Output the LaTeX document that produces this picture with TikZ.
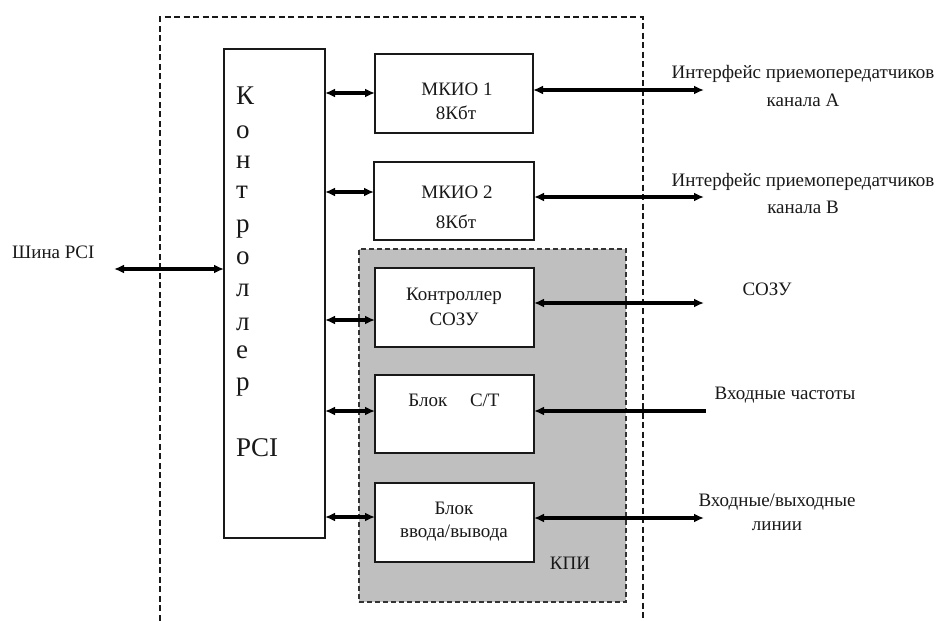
\documentclass[tikz,border=0pt]{standalone}
\usepackage{fontspec}
\setmainfont{Liberation Serif}
\usetikzlibrary{arrows.meta}
\begin{document}
\begin{tikzpicture}[x=1pt,y=-1pt,
  blk/.style={draw=black!90, line width=1.6pt, fill=white, inner sep=0pt, outer sep=0pt, anchor=north west},
  lbl/.style={inner sep=0pt, font=\fontsize{19}{21}\selectfont, text=black!90},
  bigl/.style={inner sep=0pt, font=\fontsize{27}{30}\selectfont, text=black!90, anchor=base west},
  bus/.style={line width=3.6pt, black, {Latex[length=10pt,width=9pt]}-{Latex[length=10pt,width=9pt]}},
  busin/.style={line width=3.6pt, black, {Latex[length=10pt,width=9pt]}-},
  frame/.style={line width=1.6pt, dash pattern=on 6pt off 3.5pt, black!90},
]
\useasboundingbox (0,0) rectangle (943,621);

% outer module frame (runs off the bottom edge)
\draw[frame] (160,630) -- (160,17) -- (643,17) -- (643,630);

% KPI area
\node[blk, draw=black!80, fill=black!25, dash pattern=on 5pt off 3pt, line width=1.4pt,
      minimum width=267pt, minimum height=353pt] (kpi) at (359,249) {};
\node[lbl] (kpit) at (570,563) {КПИ};

% PCI controller
\node[blk, minimum width=101pt, minimum height=489pt] (ctrl) at (224,49) {};
\foreach \ch/\yy [count=\i] in {К/104,о/138,н/168,т/198,р/232,о/264,л/296,л/330,е/358,р/390}
  \node[bigl] (c\i) at (236,\yy) {\ch};
\node[bigl] (cpci) at (236,456) {PCI};

% function blocks
\node[blk, minimum width=158pt, minimum height=79pt] (mk1) at (375,54) {};
\node[blk, minimum width=160pt, minimum height=78pt] (mk2) at (374,162) {};
\node[blk, minimum width=159pt, minimum height=79pt] (ram) at (375,268) {};
\node[blk, minimum width=159pt, minimum height=78pt] (ct) at (375,375) {};
\node[blk, minimum width=159pt, minimum height=79pt] (io) at (375,483) {};

% block captions
\node[lbl] (mk1a) at (457,89) {МКИО 1};
\node[lbl] (mk1b) at (456,113) {8Кбт};
\node[lbl] (mk2a) at (457,192) {МКИО 2};
\node[lbl] (mk2b) at (456,222) {8Кбт};
\node[lbl] (rama) at (454,296) {Контроллер};
\node[lbl] (ramb) at (454,319) {СОЗУ};
\node[lbl] (cta) at (454,400) {Блок\hspace{1.2em}С/Т};
\node[lbl] (ioa) at (454,508) {Блок};
\node[lbl] (iob) at (454,533) {ввода/вывода};

% external signals
\node[lbl, anchor=west] (pcibus) at (12,252) {Шина PCI};
\node[lbl] (ifa1) at (803,74) {Интерфейс приемопередатчиков};
\node[lbl] (ifa2) at (803,100) {канала А};
\node[lbl] (ifb1) at (803,182) {Интерфейс приемопередатчиков};
\node[lbl] (ifb2) at (803,207) {канала В};
\node[lbl] (ramx) at (767,289) {СОЗУ};
\node[lbl] (frq) at (785,395) {Входные частоты};
\node[lbl] (iox1) at (777,502) {Входные/выходные};
\node[lbl] (iox2) at (777,526) {линии};

% free ends of the external lines
\coordinate (pcie) at (114,269);
\coordinate (ifae) at (704,90);
\coordinate (ifbe) at (704,197);
\coordinate (rame) at (704,303);
\coordinate (frqe) at (706,411);
\coordinate (ioe)  at (704,518);

% PCI bus
\draw[bus] (pcie) -- (pcie -| ctrl.west);

% controller to blocks
\draw[bus] (ctrl.east |- 0,93)  -- (mk1.west |- 0,93);
\draw[bus] (ctrl.east |- 0,192) -- (mk2.west |- 0,192);
\draw[bus] (ctrl.east |- 0,320) -- (ram.west |- 0,320);
\draw[bus] (ctrl.east |- 0,411) -- (ct.west |- 0,411);
\draw[bus] (ctrl.east |- 0,517) -- (io.west |- 0,517);

% blocks to the outside
\draw[bus] (mk1.east |- ifae) -- (ifae);
\draw[bus] (mk2.east |- ifbe) -- (ifbe);
\draw[bus] (ram.east |- rame) -- (rame);
\draw[busin] (ct.east |- frqe) -- (frqe);
\draw[bus] (io.east |- ioe) -- (ioe);
\end{tikzpicture}
\end{document}
